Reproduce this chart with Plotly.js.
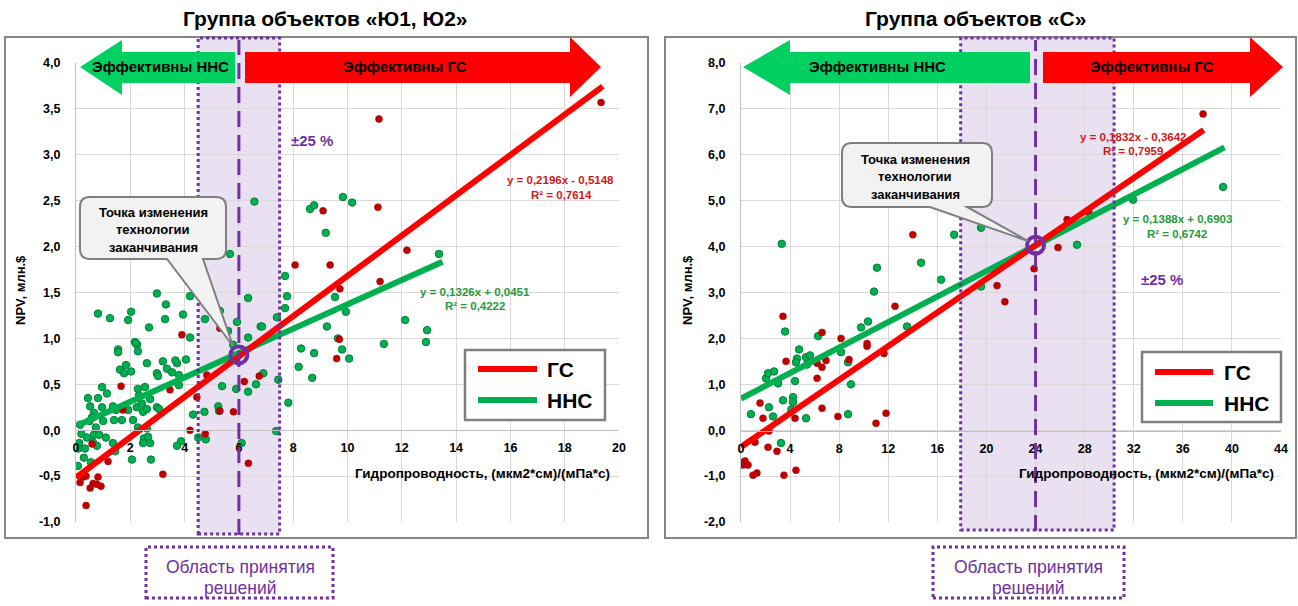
<!DOCTYPE html>
<html><head><meta charset="utf-8">
<script src="https://cdn.plot.ly/plotly-3.0.1.min.js"></script>
<style>html,body{margin:0;padding:0;background:#fff}#chart{width:1298px;height:606px}</style>
</head><body><div id="chart"></div>
<script>
// ---------- DATA ----------
const leftTitle = 'Группа объектов «Ю1, Ю2»';
const rightTitle = 'Группа объектов «С»';
const xTitle = 'Гидропроводность, (мкм2*см)/(мПа*с)';
const yTitle = 'NPV, млн.$';
const seriesNames = ['ГС', 'ННС'];

const leftXTicks = [0,2,4,6,8,10,12,14,16,18,20];
const leftXTickText = ['0','2','4','6','8','10','12','14','16','18','20'];
const leftYTicks = [-1,-0.5,0,0.5,1,1.5,2,2.5,3,3.5,4];
const leftYTickText = ['-1,0','-0,5','0,0','0,5','1,0','1,5','2,0','2,5','3,0','3,5','4,0'];
const rightXTicks = [0,4,8,12,16,20,24,28,32,36,40,44];
const rightXTickText = ['0','4','8','12','16','20','24','28','32','36','40','44'];
const rightYTicks = [-2,-1,0,1,2,3,4,5,6,7,8];
const rightYTickText = ['-2,0','-1,0','0,0','1,0','2,0','3,0','4,0','5,0','6,0','7,0','8,0'];

// Left group «Ю1, Ю2» – ГС (horizontal wells) points [x, NPV]
const leftGS = [[0.15,-0.57],[0.26,-0.51],[0.37,-0.50],[0.52,-0.63],[0.63,-0.58],[0.81,-0.51],[0.77,-0.59],[0.92,-0.61],[0.37,-0.82],[1.18,-0.34],[3.2,-0.48],[0.59,-0.15],[1.73,0.22],[1.66,0.48],[3.46,0.44],[4.45,0.36],[4.82,0.60],[4.2,0.0],[4.76,-0.04],[5.3,0.21],[5.8,0.20],[6.2,0.53],[6.75,0.59],[6.35,-0.36],[3.9,1.04],[5.3,1.11],[9.6,0.78],[9.7,0.99],[9.72,1.54],[8.07,1.80],[9.36,1.80],[11.2,1.62],[12.19,1.96],[9.1,2.39],[11.12,2.43],[11.16,3.39],[19.34,3.57]];
// Left group – ННС points
const leftNNS = [[6.57,2.49],[8.62,2.41],[8.77,2.45],[9.83,2.54],[10.17,2.48],[9.2,2.15],[5.67,1.92],[7.7,1.68],[7.77,1.46],[7.7,1.33],[9.54,1.45],[9.94,1.29],[9.24,1.13],[9.65,1.0],[9.8,0.88],[13.37,1.92],[12.12,1.2],[12.93,1.09],[12.89,0.96],[11.34,0.94],[8.29,0.89],[8.77,0.84],[10.06,0.78],[8.2,0.69],[8.7,0.57],[7.82,0.30],[7.45,0.55],[6.9,0.62],[6.8,1.13],[6.63,0.50],[6.34,0.42],[5.9,0.45],[5.38,0.48],[5.93,1.18],[6.34,1.01],[6.34,1.44],[6.85,1.13],[7.4,1.23],[5.3,1.3],[5.6,1.08],[5.79,0.93],[4.75,1.21],[4.2,1.46],[4.2,1.01],[3.94,1.26],[2.98,1.49],[3.31,1.37],[0.81,1.27],[1.25,1.22],[2.03,1.29],[1.92,1.2],[3.28,1.21],[2.69,1.12],[2.17,0.96],[2.25,0.93],[1.55,0.88],[5.24,0.26],[5.27,0.21],[4.73,0.20],[4.78,-0.10],[7.37,-0.01],[6.1,-0.14],[4.5,-0.08],[4.31,0.17],[3.87,-0.12],[3.72,-0.17],[4.05,0.77],[3.72,0.73],[3.66,0.76],[3.2,0.75],[3.35,0.67],[3.54,0.63],[3.79,0.60],[3.79,0.49],[2.98,0.62],[3.02,0.59],[2.61,0.73],[2.28,0.86],[2.2,0.95],[1.55,0.85],[1.84,0.71],[1.62,0.66],[1.77,0.62],[2.03,0.64],[0.96,0.47],[1.14,0.40],[2.28,0.45],[2.54,0.47],[0.44,0.35],[0.81,0.35],[0.96,0.25],[0.52,0.26],[0.66,0.19],[0.59,0.14],[1.36,0.26],[1.47,0.22],[1.69,0.11],[1.4,0.11],[1.92,0.22],[2.1,0.11],[2.24,0.25],[2.43,0.29],[2.47,0.20],[2.61,0.23],[2.73,0.34],[2.32,0.38],[2.98,0.25],[3.06,0.23],[2.28,0.03],[2.61,0.02],[2.5,-0.09],[2.65,-0.07],[2.47,-0.14],[2.73,-0.14],[2.06,-0.32],[2.76,-0.32],[0.15,0.06],[0.2,-0.04],[0.12,-0.14],[0.08,-0.2],[0.33,-0.2],[0.4,-0.08],[0.66,-0.05],[0.73,0.03],[0.85,-0.05],[0.77,-0.17],[0.62,-0.13],[1.36,-0.14],[1.44,-0.23],[0.07,-0.39],[0.29,-0.30],[0.55,-0.35],[1.0,0.1],[0.5,0.1],[1.1,-0.08]];

// Right group «С» – ГС points
const rightGS = [[3.42,2.48],[14.0,4.26],[12.55,2.7],[20.86,3.15],[21.5,2.8],[6.6,2.13],[8.15,2.0],[10.27,1.83],[10.27,1.89],[11.65,1.67],[8.8,1.54],[6.2,1.46],[6.6,1.37],[6.93,1.52],[3.67,1.5],[6.2,1.13],[1.55,0.59],[1.79,0.26],[4.4,0.26],[6.6,0.48],[7.9,0.3],[11.0,0.15],[11.82,0.37],[2.28,-0.02],[1.14,-0.26],[2.2,-0.37],[2.93,-0.46],[0.16,-0.70],[0.33,-0.67],[0.57,-0.76],[0.16,-0.76],[0.98,-0.98],[1.3,-0.93],[3.5,-0.98],[4.48,-0.87],[37.65,6.89],[26.57,4.59],[28.36,4.74],[25.83,3.98],[23.88,3.52]];
// Right group – ННС points
const rightNNS = [[3.32,4.06],[3.59,2.15],[17.37,4.26],[19.56,4.41],[14.67,3.65],[11.08,3.54],[10.84,3.02],[16.3,3.28],[19.56,3.13],[10.35,2.37],[9.78,2.24],[13.53,2.26],[6.28,2.05],[8.15,1.7],[8.72,1.48],[8.96,1.0],[4.73,1.76],[4.56,1.56],[4.48,1.48],[5.3,1.59],[5.62,1.63],[5.38,1.43],[4.4,1.07],[2.04,1.13],[2.2,1.24],[2.69,1.28],[3.02,1.02],[2.28,0.5],[2.61,0.3],[0.81,0.35],[3.42,0.65],[4.24,0.72],[4.24,0.61],[4.1,0.45],[5.3,0.26],[8.72,0.35],[3.26,-0.28],[39.28,5.3],[31.95,5.02],[27.38,4.04]];

// Trend lines (end points)
const leftGSTrendX = [0, 19.4],  leftGSTrendY = [-0.515, 3.745];
const leftNNSTrendX = [0.05, 13.5], leftNNSTrendY = [0.052, 1.835];
const rightGSTrendX = [0, 37.7], rightGSTrendY = [-0.364, 6.54];
const rightNNSTrendX = [0, 39.4], rightNNSTrendY = [0.69, 6.16];
const leftEq = ['y = 0,2196x - 0,5148', 'R² = 0,7614', 'y = 0,1326x + 0,0451', 'R² = 0,4222'];
const rightEq = ['y = 0,1832x - 0,3642', 'R² = 0,7959', 'y = 0,1388x + 0,6903', 'R² = 0,6742'];

// Switch point and ±25 % decision band
const leftSwitch = [6, 0.82], leftBand = [4.5, 7.5];
const rightSwitch = [24, 4.03], rightBand = [17.9, 30.4];

const arrowNNS = 'Эффективны ННС', arrowGS = 'Эффективны ГС';
const bandLabel = '±25 %';
const calloutLines = ['Точка изменения', 'технологии', 'заканчивания'];
const areaLines = ['Область принятия', 'решений'];

// ---------- LAYOUT HELPERS ----------
const W = 1298, H = 606;
const PX = v => v / W, PY = v => 1 - v / H;
const FONT = '"Liberation Sans", Arial, sans-serif';
const NARROW = '"Liberation Sans Narrow", "Liberation Sans", Arial, sans-serif';
const RED = '#ff0000', DRED = '#c00000', GREEN = '#00b050', PURPLE = '#7030a0';
function poly(pts, close) {
  return pts.map((p, i) => (i ? 'L' : 'M') + PX(p[0]).toFixed(5) + ',' + PY(p[1]).toFixed(5)).join(' ') + (close ? ' Z' : '');
}
function callout(x0, y0, x1, y1, r, bx0, bx1, tip) {
  const P = (x, y) => PX(x).toFixed(5) + ',' + PY(y).toFixed(5);
  return 'M' + P(x0 + r, y0) + ' L' + P(x1 - r, y0) + ' Q' + P(x1, y0) + ' ' + P(x1, y0 + r) +
    ' L' + P(x1, y1 - r) + ' Q' + P(x1, y1) + ' ' + P(x1 - r, y1) +
    ' L' + P(bx1, y1) + ' L' + P(tip[0], tip[1]) + ' L' + P(bx0, y1) +
    ' L' + P(x0 + r, y1) + ' Q' + P(x0, y1) + ' ' + P(x0, y1 - r) +
    ' L' + P(x0, y0 + r) + ' Q' + P(x0, y0) + ' ' + P(x0 + r, y0) + ' Z';
}

// ---------- TRACES ----------
function pts(arr, i) { return arr.map(p => p[i]); }
const redMarker = {color: DRED, size: 7, line: {color: '#a00000', width: 0.5}};
const greenMarker = {color: GREEN, size: 7.5, line: {color: '#00803a', width: 1}};
const traces = [
  {x: pts(leftNNS,0), y: pts(leftNNS,1), xaxis:'x', yaxis:'y', mode:'markers', marker: greenMarker, showlegend:false},
  {x: pts(leftGS,0), y: pts(leftGS,1), xaxis:'x', yaxis:'y', mode:'markers', marker: redMarker, showlegend:false},
  {x: leftNNSTrendX, y: leftNNSTrendY, xaxis:'x', yaxis:'y', mode:'lines', line:{color:GREEN, width:6}, name: seriesNames[1], showlegend:false},
  {x: leftGSTrendX, y: leftGSTrendY, xaxis:'x', yaxis:'y', mode:'lines', line:{color:RED, width:6}, name: seriesNames[0], showlegend:false},
  {x: [leftSwitch[0]], y: [leftSwitch[1]], xaxis:'x', yaxis:'y', mode:'markers', marker:{symbol:'circle-open', size:17, color:PURPLE, line:{width:4, color:PURPLE}}, showlegend:false},

  {x: pts(rightNNS,0), y: pts(rightNNS,1), xaxis:'x2', yaxis:'y2', mode:'markers', marker: greenMarker, showlegend:false},
  {x: pts(rightGS,0), y: pts(rightGS,1), xaxis:'x2', yaxis:'y2', mode:'markers', marker: redMarker, showlegend:false},
  {x: rightNNSTrendX, y: rightNNSTrendY, xaxis:'x2', yaxis:'y2', mode:'lines', line:{color:GREEN, width:6}, name: seriesNames[1], showlegend:false},
  {x: rightGSTrendX, y: rightGSTrendY, xaxis:'x2', yaxis:'y2', mode:'lines', line:{color:RED, width:6}, name: seriesNames[0], showlegend:false},
  {x: [rightSwitch[0]], y: [rightSwitch[1]], xaxis:'x2', yaxis:'y2', mode:'markers', marker:{symbol:'circle-open', size:17, color:PURPLE, line:{width:4, color:PURPLE}}, showlegend:false}
];

// ---------- AXES ----------
const tickFont = {family: FONT, size: 12.5, color: '#000', weight: 'bold'};
const gridC = '#d9d9d9';
function xAx(dom, range, tv, tt, pos) {
  return {domain: dom, range: range, anchor: 'free', position: pos, tickvals: tv, ticktext: tt, tickfont: tickFont,
    showgrid: true, gridcolor: gridC, gridwidth: 1, zeroline: false, showline: true, linecolor: '#bfbfbf', linewidth: 1,
    ticks: '', ticklabelstandoff: 6, fixedrange: true};
}
function yAx(dom, range, tv, tt, anchor) {
  return {domain: dom, range: range, anchor: anchor, tickvals: tv, ticktext: tt, tickfont: tickFont,
    showgrid: true, gridcolor: gridC, gridwidth: 1, zeroline: false, showline: true, linecolor: '#bfbfbf', linewidth: 1,
    ticks: '', ticklabelstandoff: 12, fixedrange: true};
}

// ---------- SHAPES ----------
const shapes = [];
// chart frames
shapes.push({type:'rect', xref:'paper', yref:'paper', x0:PX(5), x1:PX(648), y0:PY(538), y1:PY(37), line:{color:'#868686', width:2}, layer:'below'});
shapes.push({type:'rect', xref:'paper', yref:'paper', x0:PX(665), x1:PX(1296), y0:PY(538), y1:PY(37), line:{color:'#868686', width:2}, layer:'below'});
// decision bands
[[leftBand, 'x', 534, leftSwitch[0], 535], [rightBand, 'x2', 530, rightSwitch[0], 531]].forEach(b => {
  shapes.push({type:'rect', xref:b[1], yref:'paper', x0:b[0][0], x1:b[0][1], y0:PY(b[2]), y1:PY(38), fillcolor:'#e9e1f1', line:{width:0}, layer:'below'});
  shapes.push({type:'rect', xref:b[1], yref:'paper', x0:b[0][0], x1:b[0][1], y0:PY(b[2]), y1:PY(38), line:{color:PURPLE, width:3, dash:'dot'}, layer:'above'});
  shapes.push({type:'line', xref:b[1], yref:'paper', x0:b[3], x1:b[3], y0:PY(b[4]), y1:PY(40), line:{color:PURPLE, width:3, dash:'16px,8px'}, layer:'above'});
});
// arrows
const GREENA = '#00d060';
shapes.push({type:'path', xref:'paper', yref:'paper', path: poly([[80,67],[122,40],[122,52],[235,52],[235,83],[122,83],[122,95]], true), fillcolor:GREENA, line:{width:0}, layer:'above'});
shapes.push({type:'path', xref:'paper', yref:'paper', path: poly([[245,52],[570,52],[570,37],[601,67],[570,97],[570,83],[245,83]], true), fillcolor:RED, line:{width:0}, layer:'above'});
shapes.push({type:'path', xref:'paper', yref:'paper', path: poly([[743,67],[790,40],[790,52],[1030,52],[1030,83],[790,83],[790,95]], true), fillcolor:GREENA, line:{width:0}, layer:'above'});
shapes.push({type:'path', xref:'paper', yref:'paper', path: poly([[1043,52],[1250,52],[1250,37],[1283,67],[1250,97],[1250,83],[1043,83]], true), fillcolor:RED, line:{width:0}, layer:'above'});
// callouts
shapes.push({type:'path', xref:'paper', yref:'paper', path: callout(80,197,226,259,10,167,203,[233,346]), fillcolor:'#f2f2f2', line:{color:'#7f7f7f', width:2}, layer:'above'});
shapes.push({type:'path', xref:'paper', yref:'paper', path: callout(842,143,992,207,10,930,967,[1028,241]), fillcolor:'#f2f2f2', line:{color:'#7f7f7f', width:2}, layer:'above'});
// legends
function legendBox(x0, y0, x1, y1, lx0, lx1, ly1, ly2) {
  shapes.push({type:'rect', xref:'paper', yref:'paper', x0:PX(x0), x1:PX(x1), y0:PY(y1), y1:PY(y0), fillcolor:'#fff', line:{color:'#7f7f7f', width:2.5}, layer:'above'});
  shapes.push({type:'line', xref:'paper', yref:'paper', x0:PX(lx0), x1:PX(lx1), y0:PY(ly1), y1:PY(ly1), line:{color:RED, width:6}, layer:'above'});
  shapes.push({type:'line', xref:'paper', yref:'paper', x0:PX(lx0), x1:PX(lx1), y0:PY(ly2), y1:PY(ly2), line:{color:GREEN, width:6}, layer:'above'});
}
legendBox(465,350,605,420,478,537,369,400);
legendBox(1142,352,1281,422,1155,1213,372,403);
// bottom decision-area boxes
shapes.push({type:'rect', xref:'paper', yref:'paper', x0:PX(146), x1:PX(333), y0:PY(598), y1:PY(547), line:{color:PURPLE, width:3, dash:'dot'}, layer:'above'});
shapes.push({type:'rect', xref:'paper', yref:'paper', x0:PX(933), x1:PX(1124), y0:PY(598), y1:PY(547), line:{color:PURPLE, width:3, dash:'dot'}, layer:'above'});

// ---------- ANNOTATIONS ----------
const ann = [];
function T(text, x, y, opts) {
  opts = opts || {};
  ann.push(Object.assign({xref:'paper', yref:'paper', x:PX(x), y:PY(y), text:text, showarrow:false,
    xanchor: opts.xanchor || 'center', yanchor:'middle',
    font:{family: opts.family || FONT, size: opts.size || 12, color: opts.color || '#000', weight: opts.weight || 'bold'}},
    opts.textangle !== undefined ? {textangle: opts.textangle} : {}));
}
T(leftTitle, 325, 18, {size:21});
T(rightTitle, 975, 18, {size:21});
T(xTitle, 482, 473, {size:13.5});
T(xTitle, 1146, 473, {size:13.5});
T(yTitle, 20, 290, {size:13, textangle:-90});
T(yTitle, 687, 290, {size:13, textangle:-90});
T(arrowNNS, 160, 67, {size:15, family:NARROW});
T(arrowGS, 405, 67, {size:15, family:NARROW});
T(arrowNNS, 877, 67, {size:15, family:NARROW});
T(arrowGS, 1152, 67, {size:15, family:NARROW});
T(bandLabel, 312, 140, {size:15, color:PURPLE});
T(bandLabel, 1162, 279, {size:15, color:PURPLE});
calloutLines.forEach((s, i) => { T(s, 153, 212 + i*17.5, {size:13}); T(s, 915, 159 + i*17.5, {size:13}); });
T(leftEq[0], 560, 180, {size:11.5, color:'#d01818'});
T(leftEq[1], 561, 195, {size:11.5, color:'#d01818'});
T(leftEq[2], 475, 292, {size:11.5, color:'#1f9a3a'});
T(leftEq[3], 475, 306, {size:11.5, color:'#1f9a3a'});
T(rightEq[0], 1133, 137, {size:11.5, color:'#d01818'});
T(rightEq[1], 1133, 151, {size:11.5, color:'#d01818'});
T(rightEq[2], 1177, 219, {size:11.5, color:'#1f9a3a'});
T(rightEq[3], 1177, 234, {size:11.5, color:'#1f9a3a'});
T(seriesNames[0], 545, 369, {size:21, xanchor:'left'});
T(seriesNames[1], 545, 400, {size:21, xanchor:'left'});
T(seriesNames[0], 1222, 372, {size:21, xanchor:'left'});
T(seriesNames[1], 1222, 403, {size:21, xanchor:'left'});
areaLines.forEach((s, i) => { T(s, 240, 567 + i*21, {size:17.5, weight:'normal', color:PURPLE}); T(s, 1028, 567 + i*21, {size:17.5, weight:'normal', color:PURPLE}); });

const layout = {
  width: W, height: H, margin: {l:0, r:0, t:0, b:0},
  paper_bgcolor: '#fff', plot_bgcolor: 'rgba(0,0,0,0)',
  showlegend: false, hovermode: false, separators: ', ',
  xaxis: xAx([PX(76), PX(619)], [0, 20], leftXTicks, leftXTickText, PY(430)),
  yaxis: yAx([PY(522), PY(63)], [-1, 4], leftYTicks, leftYTickText, 'x'),
  xaxis2: xAx([PX(741), PX(1281)], [0, 44], rightXTicks, rightXTickText, PY(431)),
  yaxis2: yAx([PY(522), PY(63)], [-2, 8], rightYTicks, rightYTickText, 'x2'),
  shapes: shapes, annotations: ann
};
Plotly.newPlot('chart', traces, layout, {staticPlot: true, displayModeBar: false});
</script></body></html>
